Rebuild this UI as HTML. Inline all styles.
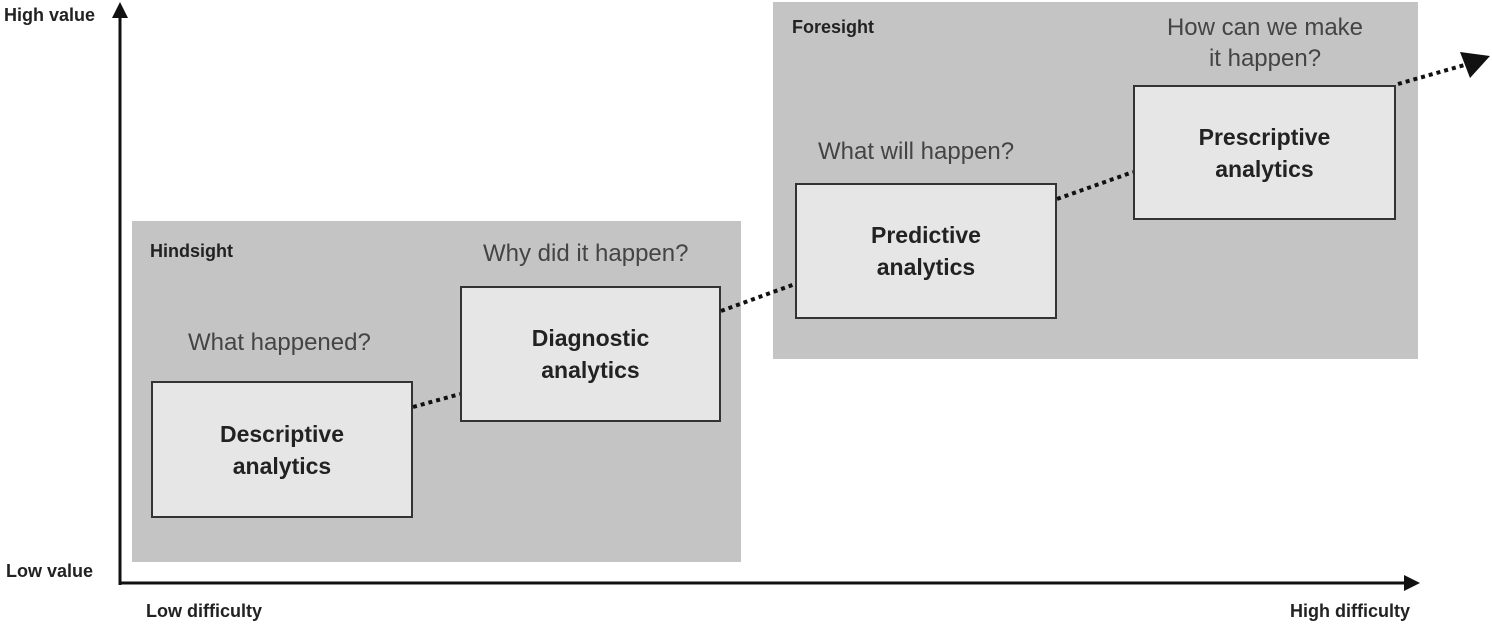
<!DOCTYPE html>
<html><head><style>
body{margin:0;width:1492px;height:625px;background:#fff;overflow:hidden;position:relative;font-family:"Liberation Sans",sans-serif}
div{position:absolute;box-sizing:border-box}
.panel{background:#c4c4c4}
.box{background:#e6e6e6;border:2px solid #333;display:flex;align-items:center;justify-content:center;text-align:center;font-size:23px;font-weight:bold;color:#222;line-height:32px}
.q{font-size:24px;color:#444;white-space:nowrap}
.lbl{font-size:18px;font-weight:bold;color:#222;white-space:nowrap}
</style></head><body>
<div class="panel" style="left:132px;top:221px;width:609px;height:341px"></div>
<div class="panel" style="left:773px;top:2px;width:645px;height:357px"></div>
<div class="lbl" style="left:150px;top:241px">Hindsight</div>
<div class="lbl" style="left:792px;top:17px">Foresight</div>
<div class="q" style="left:188px;top:329px">What happened?</div>
<div class="q" style="left:483px;top:240px">Why did it happen?</div>
<div class="q" style="left:818px;top:138px">What will happen?</div>
<div class="q" style="left:1140px;top:12px;width:250px;text-align:center;line-height:31px">How can we make<br>it happen?</div>
<div class="box" style="left:151px;top:381px;width:262px;height:137px">Descriptive<br>analytics</div>
<div class="box" style="left:460px;top:286px;width:261px;height:136px">Diagnostic<br>analytics</div>
<div class="box" style="left:795px;top:183px;width:262px;height:136px">Predictive<br>analytics</div>
<div class="box" style="left:1133px;top:85px;width:263px;height:135px">Prescriptive<br>analytics</div>
<svg width="1492" height="625" style="position:absolute;left:0;top:0">
<g stroke="#111" stroke-width="4" stroke-dasharray="4,4" fill="none">
<line x1="413" y1="407" x2="460" y2="394"/>
<line x1="721" y1="311" x2="795" y2="284"/>
<line x1="1057" y1="199" x2="1133" y2="172"/>
<line x1="1398" y1="84" x2="1468" y2="64"/>
</g>
<polygon points="1490,56 1460,52 1470,78" fill="#111"/>
<line x1="120" y1="585" x2="120" y2="14" stroke="#111" stroke-width="3"/>
<polygon points="120,2 112,18 128,18" fill="#111"/>
<line x1="119" y1="583" x2="1408" y2="583" stroke="#111" stroke-width="3"/>
<polygon points="1420,583 1404,575 1404,591" fill="#111"/>
</svg>
<div class="lbl" style="left:4px;top:5px">High value</div>
<div class="lbl" style="left:6px;top:561px">Low value</div>
<div class="lbl" style="left:146px;top:601px">Low difficulty</div>
<div class="lbl" style="left:1290px;top:601px">High difficulty</div>
</body></html>
